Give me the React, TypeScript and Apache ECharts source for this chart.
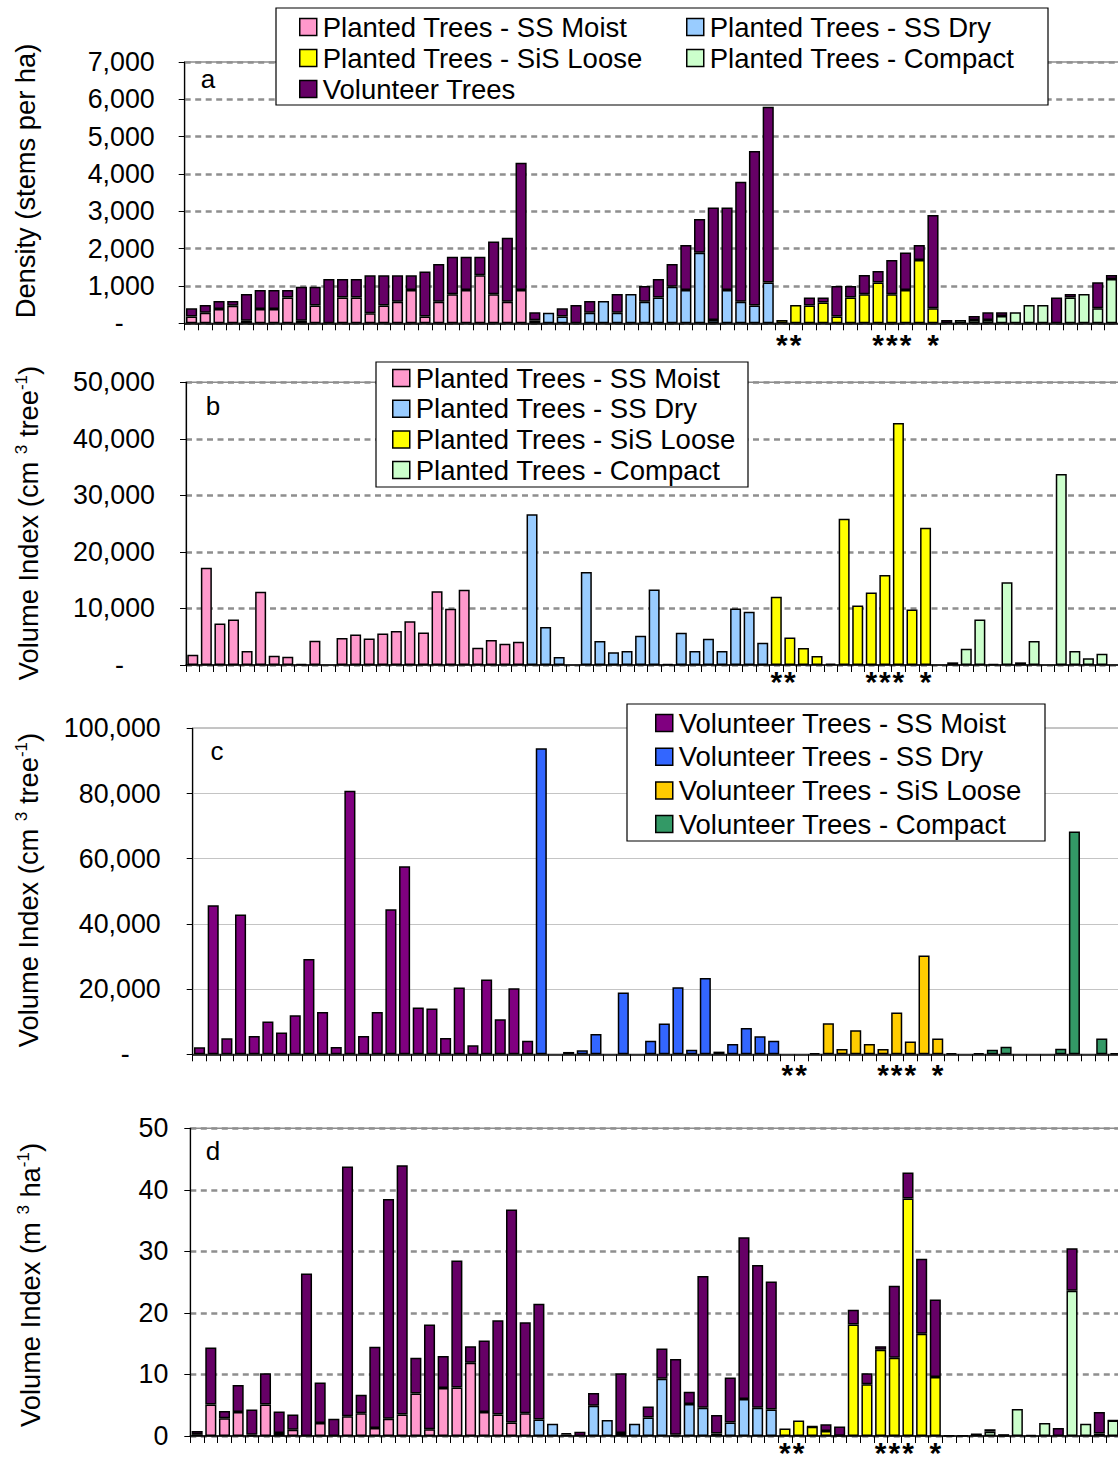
import React, { useEffect, useRef } from 'react';
import * as echarts from 'echarts';

// ---------- DATA ----------
const groupNames = ['SS Moist', 'SS Dry', 'SiS Loose', 'Compact'];
const groupSizes = [25, 18, 12, 13];

// significance marks under the x axis (one per category)
const starLabels = [
  '', '', '', '', '', '', '', '', '', '', '', '', '', '', '', '', '', '', '', '', '', '', '', '', '',
  '', '', '', '', '', '', '', '', '', '', '', '', '', '', '', '', '', '',
  '*', '*', '', '', '', '', '', '*', '*', '*', '', '*',
  '', '', '', '', '', '', '', '', '', '', '', '', '',
];

// (a) density, stems per ha
const plantedDensity = [
  180, 285, 385, 470, 70, 385, 385, 690, 70, 475,
  0, 690, 690, 270, 475, 580, 890, 180, 580, 775,
  890, 1285, 775, 580, 890,
  80, 285, 180, 0, 285, 600, 285, 785, 580, 690,
  980, 890, 1890, 90, 890, 580, 475, 1090,
  90, 490, 475, 560, 180, 690, 775, 1090, 775, 890, 1695, 400,
  0, 90, 90, 90, 195, 295, 490, 490, 0, 690, 785, 400, 1190,
];
const volunteerDensity = [
  220, 205, 215, 130, 715, 505, 505, 200, 910, 505,
  1190, 500, 500, 1015, 810, 705, 395, 1205, 1010, 1010,
  895, 500, 1415, 1715, 3410,
  215, 0, 220, 490, 315, 0, 500, 0, 420, 500,
  610, 1210, 905, 3010, 2210, 3215, 4140, 4710,
  0, 0, 215, 130, 820, 310, 520, 310, 920, 1010, 405, 2500,
  90, 0, 105, 205, 100, 0, 0, 0, 690, 95, 0, 700, 105,
];

// (b) planted trees volume index, cm3 per tree
const plantedVolumeTree = [
  1800, 17200, 7350, 8060, 2470, 12940, 1650, 1470, 150, 4290,
  null, 4760, 5410, 4700, 5590, 6000, 7760, 5760, 13060, 9940,
  13290, 3060, 4410, 3760, 4120,
  26650, 6700, 1410, null, 16470, 4240, 2240, 2470, 5180, 13350,
  180, 5700, 2470, 4650, 2470, 10000, 9410, 3940,
  12060, 4880, 3000, 1590, 240, 25880, 10530, 12820, 15940, 42820, 9820, 24290,
  null, 470, 2880, 8060, 180, 14650, 470, 4240, null, 33760, 2470, 1180, 2000,
];

// (c) volunteer trees volume index, cm3 per tree
const volunteerVolumeTree = [
  2150, 45730, 4910, 42860, 5630, 10030, 6650, 11970, 29260, 12990,
  2250, 80820, 5630, 12990, 44500, 57700, 14320, 14020, 5010, 20460,
  2760, 22920, 10740, 20260, 4190,
  93910, null, 720, 1230, 6240, null, 18930, null, 4190, 9410,
  20560, 1430, 23430, 820, 3170, 8080, 5520, 4190,
  null, null, 400, 9510, 1640, 7370, 3170, 1640, 12790, 3890, 30280, 4810,
  300, null, 300, 1430, 2350, null, null, null, 1740, 68340, null, 4810, 300,
];

// (d) volume index, m3 per ha
const plantedVolumeHa = [
  0.3, 5.1, 2.9, 3.9, 0.2, 5.1, 0.5, 1.0, null, 2.1,
  null, 3.2, 3.7, 1.3, 2.8, 3.5, 6.9, 1.1, 7.8, 7.9,
  11.9, 3.9, 3.5, 2.2, 3.7,
  2.7, 2.0, 0.25, null, 4.9, 2.6, 0.5, 2.0, 3.0, 9.3,
  0.2, 5.2, 4.6, 0.4, 2.2, 6.0, 4.6, 4.3,
  1.2, 2.5, 1.5, 0.8, 0.05, 18.1, 8.4, 14.0, 12.7, 38.6, 16.6, 9.6,
  null, 0.05, 0.25, 0.7, 0.05, 4.4, 0.2, 2.1, null, 23.6, 2.0, 0.4, 2.5,
];
const volunteerVolumeHa = [
  0.5, 9.3, 1.15, 4.4, 4.1, 5.1, 3.5, 2.5, 26.4, 6.6,
  2.8, 40.6, 3.0, 13.2, 35.7, 40.5, 5.8, 17.0, 5.2, 20.6,
  2.7, 11.6, 15.3, 34.6, 14.8,
  18.8, null, 0.2, 0.7, 2.1, null, 9.7, null, 1.8, 4.9,
  12.3, 2.0, 21.4, 3.0, 7.3, 26.3, 23.2, 20.8,
  null, null, 0.05, 1.1, 1.5, 2.4, 1.8, 0.6, 11.7, 4.2, 12.2, 12.6,
  0.05, null, 0.05, 0.4, 0.25, null, null, null, 1.3, 6.9, null, 3.5, 0.05,
];

// tick values
const densityTicks = [0, 1000, 2000, 3000, 4000, 5000, 6000, 7000];
const treeVolumeTicksB = [0, 10000, 20000, 30000, 40000, 50000];
const treeVolumeTicksC = [0, 20000, 40000, 60000, 80000, 100000];
const haVolumeTicks = [0, 10, 20, 30, 40, 50];

const plantedColors = ['#FF99CC', '#99CCFF', '#FFFF00', '#CCFFCC'];
const volunteerColor = '#660066';
const volunteerGroupColors = ['#800080', '#3366FF', '#FFCC00', '#339966'];

// ---------- HELPERS ----------
const FONT = '"Liberation Sans", Arial, Helvetica, sans-serif';
const NCAT = 70;
const TICK_FS = 26.8;
const LEGEND_FS = 27.5;
const TITLE_FS = 27.3;
const groupOf: number[] = [];
groupSizes.forEach((n, g) => { for (let i = 0; i < n; i++) groupOf.push(g); });

const mask = (vals: (number | null)[], g: number) =>
  vals.map((v, i) => (groupOf[i] === g && v !== null && v !== 0 ? v : '-'));
const nz = (vals: (number | null)[]) => vals.map((v) => (v === null || v === 0 ? '-' : v));

const plantedName = (g: number) => 'Planted Trees - ' + groupNames[g];
const volunteerName = (g: number) => 'Volunteer Trees - ' + groupNames[g];

const fmt = (v: number) => String(v).replace(/\B(?=(\d{3})+(?!\d))/g, ',');

const panels = [
  { left: 184.7, top: 62, spacing: 13.73, height: 261.3, ticks: densityTicks, lm: 30, dash0: true, dashed: true, starMargin: 13 },
  { left: 186, top: 382.3, spacing: 13.57, height: 282.7, ticks: treeVolumeTicksB, lm: 31, dash0: true, dashed: true, starMargin: 8 },
  { left: 192.7, top: 728.3, spacing: 13.67, height: 326, ticks: treeVolumeTicksC, lm: 32, dash0: true, dashed: false, starMargin: 12 },
  { left: 190.3, top: 1128.3, spacing: 13.67, height: 312.7, ticks: haVolumeTicks, lm: 22, dash0: false, dashed: true, starMargin: 8 },
];

const barBase = {
  type: 'bar',
  barCategoryGap: '19%',
};
const border = { borderColor: '#000', borderWidth: 1.5 };

function buildOption() {
  const xData = Array.from({ length: NCAT }, (_, i) => starLabels[i] || '');
  const grid = panels.map((p) => ({
    left: p.left,
    top: p.top,
    width: p.spacing * NCAT,
    height: p.height,
    show: true,
    borderColor: '#8c8c8c',
    borderWidth: 1.5,
    backgroundColor: 'transparent',
  }));
  const xAxis = panels.map((p, i) => ({
    type: 'category',
    gridIndex: i,
    data: xData,
    boundaryGap: true,
    axisLine: { show: true, lineStyle: { color: '#000', width: 1.5 } },
    axisTick: { show: true, interval: 0, length: 7, lineStyle: { color: '#000', width: 1 } },
    axisLabel: {
      interval: 0, fontSize: 30, fontWeight: 'bold', fontFamily: FONT, color: '#000',
      margin: p.starMargin, lineHeight: 16,
    },
    splitLine: { show: false },
  }));
  const yAxis = panels.map((p, i) => ({
    type: 'value',
    gridIndex: i,
    min: p.ticks[0],
    max: p.ticks[p.ticks.length - 1],
    interval: p.ticks[1] - p.ticks[0],
    axisLine: { show: true, lineStyle: { color: '#000', width: 1.2 } },
    axisTick: { show: true, length: 6, lineStyle: { color: '#000', width: 1 } },
    axisLabel: {
      fontSize: TICK_FS,
      fontFamily: FONT,
      color: '#000',
      margin: p.lm,
      formatter: (v: number) => (v === 0 && p.dash0 ? '{z|-}' : fmt(v)),
      rich: { z: { padding: [0, 31, 0, 0], fontSize: TICK_FS, fontFamily: FONT, color: '#000' } },
    },
    splitLine: p.dashed
      ? { show: true, lineStyle: { color: '#8f8f8f', width: 2.5, type: [6, 4.5] } }
      : { show: true, lineStyle: { color: '#c4c4c4', width: 1 } },
  }));

  const series: any[] = [];
  // (a)
  for (let g = 0; g < 4; g++) {
    series.push({ ...barBase, name: plantedName(g), xAxisIndex: 0, yAxisIndex: 0, stack: 'a', data: mask(plantedDensity, g), itemStyle: { color: plantedColors[g], ...border } });
  }
  series.push({ ...barBase, name: 'Volunteer Trees', xAxisIndex: 0, yAxisIndex: 0, stack: 'a', data: nz(volunteerDensity), itemStyle: { color: volunteerColor, ...border } });
  // (b)
  for (let g = 0; g < 4; g++) {
    series.push({ ...barBase, name: plantedName(g), xAxisIndex: 1, yAxisIndex: 1, stack: 'b', data: mask(plantedVolumeTree, g), itemStyle: { color: plantedColors[g], ...border } });
  }
  // (c)
  for (let g = 0; g < 4; g++) {
    series.push({ ...barBase, name: volunteerName(g), xAxisIndex: 2, yAxisIndex: 2, stack: 'c', data: mask(volunteerVolumeTree, g), itemStyle: { color: volunteerGroupColors[g], ...border } });
  }
  // (d)
  for (let g = 0; g < 4; g++) {
    series.push({ ...barBase, name: plantedName(g), xAxisIndex: 3, yAxisIndex: 3, stack: 'd', data: mask(plantedVolumeHa, g), itemStyle: { color: plantedColors[g], ...border } });
  }
  series.push({ ...barBase, name: 'Volunteer Trees', xAxisIndex: 3, yAxisIndex: 3, stack: 'd', data: nz(volunteerVolumeHa), itemStyle: { color: volunteerColor, ...border } });

  const legendCommon = {
    orient: 'vertical',
    itemWidth: 17,
    itemHeight: 17,
    icon: 'rect',
    padding: 0,
    selectedMode: false,
    z: 110,
    textStyle: { fontSize: LEGEND_FS, fontFamily: FONT, color: '#000', padding: [0, 0, 0, 1] },
    itemStyle: { borderColor: '#000', borderWidth: 1.5 },
  };
  const legend = [
    { ...legendCommon, data: [plantedName(0), plantedName(2), 'Volunteer Trees'], left: 299, top: 13, itemGap: 3 },
    { ...legendCommon, data: [plantedName(1), plantedName(3)], left: 686, top: 13, itemGap: 3 },
    { ...legendCommon, data: [0, 1, 2, 3].map(plantedName), left: 392, top: 364, itemGap: 2.7 },
    { ...legendCommon, data: [0, 1, 2, 3].map(volunteerName), left: 655, top: 709, itemGap: 5.7 },
  ];

  const boxStyle = { fill: '#fff', stroke: '#000', lineWidth: 1.2 };
  const letter = (t: string, x: number, y: number) => ({
    type: 'text', x, y, z: 100,
    style: { text: t, fontSize: 26, fontFamily: FONT, fill: '#000', align: 'center', verticalAlign: 'middle' },
  });
  const supRich = { sup: { fontSize: 17, fontFamily: FONT, fill: '#000', verticalAlign: 'top', lineHeight: 17 } };
  const yTitle = (t: string, x: number, y: number) => ({
    type: 'text', x, y, z: 100, rotation: Math.PI / 2,
    style: { text: t, fontSize: TITLE_FS, fontFamily: FONT, fill: '#000', align: 'center', verticalAlign: 'middle', lineHeight: 30, rich: supRich },
  });
  const graphic = [
    { type: 'rect', z: 100, shape: { x: 276, y: 8, width: 772, height: 97 }, style: boxStyle },
    { type: 'rect', z: 100, shape: { x: 376, y: 362, width: 372, height: 125 }, style: boxStyle },
    { type: 'rect', z: 100, shape: { x: 627, y: 704, width: 418, height: 137 }, style: boxStyle },
    letter('a', 208, 79),
    letter('b', 213, 406),
    letter('c', 217, 751),
    letter('d', 213, 1151),
    yTitle('Density (stems per ha)', 25, 181),
    yTitle('Volume Index (cm {sup|3} tree{sup|-1})', 28, 523),
    yTitle('Volume Index (cm {sup|3} tree{sup|-1})', 28, 890),
    yTitle('Volume Index (m {sup|3} ha{sup|-1})', 30, 1285),
  ];

  return {
    animation: false,
    backgroundColor: '#fff',
    grid,
    xAxis,
    yAxis,
    legend,
    graphic,
    series,
  };
}

export default function App() {
  const ref = useRef<HTMLDivElement>(null);
  useEffect(() => {
    if (!ref.current) return;
    const chart = echarts.init(ref.current, undefined, { renderer: 'svg' });
    chart.setOption(buildOption() as any);
    return () => chart.dispose();
  }, []);
  return (
    <div style={{ position: 'absolute', left: 0, top: 0, width: 1118, height: 1467, overflow: 'hidden', background: '#fff' }}>
      <div ref={ref} style={{ width: 1200, height: 1467 }} />
    </div>
  );
}
